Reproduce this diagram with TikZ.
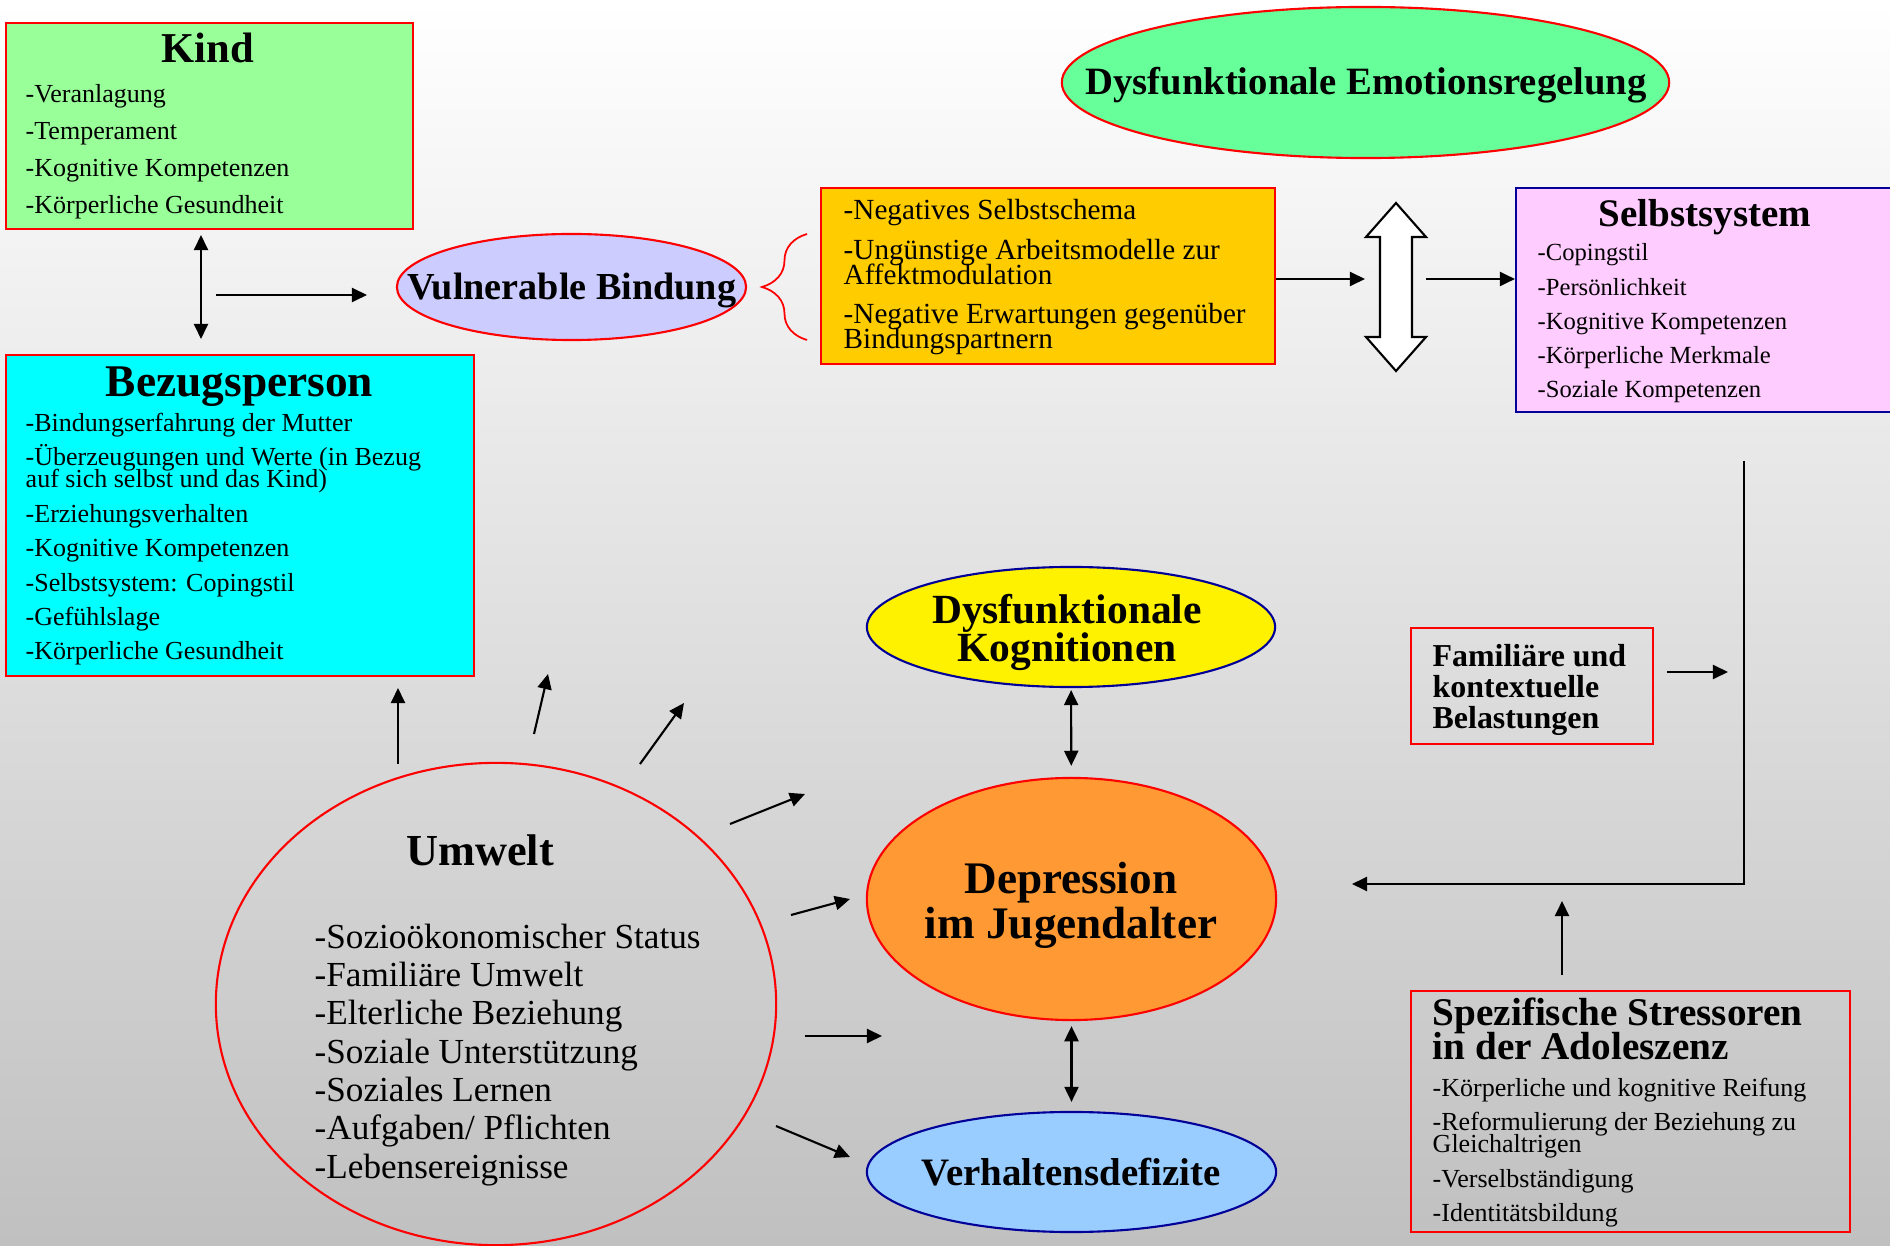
\documentclass[tikz,border=0pt]{standalone}
\usepackage{fontspec}
\setmainfont{Liberation Serif}
\usetikzlibrary{arrows.meta,fit,shapes.geometric,decorations.pathreplacing}
\definecolor{kindgreen}{HTML}{99FF99}
\definecolor{bezcyan}{HTML}{00FFFF}
\definecolor{vulblue}{HTML}{CCCCFF}
\definecolor{negorange}{HTML}{FFCC00}
\definecolor{selpink}{HTML}{FFCCFF}
\definecolor{emogreen}{HTML}{66FF99}
\definecolor{deporange}{HTML}{FF9933}
\definecolor{verblue}{HTML}{99CCFF}
\definecolor{navy}{HTML}{000099}
\definecolor{bggray}{HTML}{C0C0C0}
\newcommand\setfs[2]{\fontsize{#1}{#2}\selectfont\lineskiplimit=-100pt}
\begin{document}
\begin{tikzpicture}[x=0.01cm,y=-0.01cm,
  box/.style={draw=red,line width=0.6pt,inner sep=0pt},
  ell/.style={ellipse,draw=red,line width=0.6pt,inner sep=0pt},
  txt/.style={inner sep=0pt,align=left,anchor=north west},
  hd/.style={inner sep=0pt,anchor=base},
  arr/.style={line width=0.6pt,-{Triangle[length=4.3pt,width=4pt]}},
  darr/.style={line width=0.6pt,{Triangle[length=4.3pt,width=4pt]}-{Triangle[length=4.3pt,width=4pt]}}]
\shade[top color=white,bottom color=bggray](0,0)rectangle(1890,1246);
\useasboundingbox(0,0)rectangle(1890,1246);
% Kind
\node[box,fill=kindgreen,fit={(6,23)(413,229)}](kind){};
\node[hd,font={\setfs{12.1}{14}\bfseries}](kindt)at(208,63){Kind};
\node[txt,font=\setfs{7.4}{10.5}](kindl)at(25,84){-Veranlagung\\-Temperament\\-Kognitive Kompetenzen\\-Körperliche Gesundheit};
% Bezugsperson
\node[box,fill=bezcyan,fit={(6,355)(474,676)}](bez){};
\node[hd,font={\setfs{12.9}{15}\bfseries}](bezt)at(239.5,397){Bezugsperson};
\node[txt,font=\setfs{7.4}{6.3}](bezl)at(25,412){-Bindungserfahrung der Mutter\\[3.5pt]-Überzeugungen und Werte (in Bezug\\auf sich selbst und das Kind)\\[3.5pt]-Erziehungsverhalten\\[3.5pt]-Kognitive Kompetenzen\\[3.5pt]-Selbstsystem: Copingstil\\[3.5pt]-Gefühlslage\\[3.5pt]-Körperliche Gesundheit};
% Vulnerable Bindung
\node[ell,fill=vulblue,minimum width=3.49cm,minimum height=1.06cm](vul)at(571.5,287){};
\node[hd,font={\setfs{10.86}{12}\bfseries}](vult)at(572,300){Vulnerable Bindung};
\draw[red,line width=0.5pt,decorate,decoration={brace,amplitude=0.45cm}](807,340)--(807,234);
% Arbeitsmodelle
\node[box,fill=negorange,fit={(821,188)(1275,364)}](neg){};
\node[txt,font=\setfs{8.3}{7.1}](negl)at(843,199){-Negatives Selbstschema\\[4.1pt]-Ungünstige Arbeitsmodelle zur\\Affektmodulation\\[4.1pt]-Negative Erwartungen gegenüber\\Bindungspartnern};
% hollow double arrow
\draw[fill=white,line width=0.6pt](1396,203)--(1426,237)--(1412,237)--(1412,337)--(1426,337)--(1396,371)
  --(1366,337)--(1380,337)--(1380,237)--(1366,237)--cycle;
\coordinate(hl)at(1365,279);
\coordinate(hr)at(1426,279);
% Selbstsystem
\node[box,draw=navy,fill=selpink,fit={(1516,188)(1900,412)}](sel){};
\node[hd,font={\setfs{11.1}{13}\bfseries}](selt)at(1705,227){Selbstsystem};
\node[txt,font=\setfs{7}{9.75}](sell)at(1537,243){-Copingstil\\-Persönlichkeit\\-Kognitive Kompetenzen\\-Körperliche Merkmale\\-Soziale Kompetenzen};
% Emotionsregelung
\node[ell,fill=emogreen,minimum width=6.07cm,minimum height=1.51cm](emo)at(1365.5,82.5){};
\node[hd,font={\setfs{11}{13}\bfseries}](emot)at(1366,95){Dysfunktionale Emotionsregelung};
% Belastungen
\node[box,fit={(1411,628)(1653,744)}](fam){};
\node[txt,font={\setfs{9.07}{8.8}\bfseries}](famt)at(1432,644){Familiäre und\\kontextuelle\\Belastungen};
% Stressoren
\node[box,fit={(1411,991)(1850,1232)}](spz){};
\node[txt,font={\setfs{11.15}{9.7}\bfseries}](spzt)at(1432,997){Spezifische Stressoren\\in der Adoleszenz};
\node[txt,font=\setfs{7.4}{6.3}](spzl)at(1432,1077){-Körperliche und kognitive Reifung\\[3.5pt]-Reformulierung der Beziehung zu\\Gleichaltrigen\\[3.5pt]-Verselbständigung\\[3.5pt]-Identitätsbildung};
% Mitte
\node[ell,draw=navy,fill=yellow,minimum width=4.08cm,minimum height=1.2cm](kog)at(1071,627){};
\node[inner sep=0pt,align=center,font={\setfs{11.8}{10.8}\bfseries}](kogt)at(1067,632){Dysfunktionale\\Kognitionen};
\node[ell,fill=deporange,minimum width=4.09cm,minimum height=2.42cm](dep)at(1071.5,899){};
\node[inner sep=0pt,align=center,font={\setfs{12.84}{12.8}\bfseries}](dept)at(1071,905){Depression\\im Jugendalter};
\node[ell,draw=navy,fill=verblue,minimum width=4.09cm,minimum height=1.2cm](ver)at(1071.5,1172){};
\node[hd,font={\setfs{11.05}{13}\bfseries}](vert)at(1071,1185){Verhaltensdefizite};
% Umwelt
\node[ell,minimum width=5.6cm,minimum height=4.82cm](umw)at(496,1004){};
\node[hd,font={\setfs{12.6}{14}\bfseries}](umwt)at(480,865){Umwelt};
\node[txt,font=\setfs{10}{10.9}](umwl)at(314,923){-Sozioökonomischer Status\\-Familiäre Umwelt\\-Elterliche Beziehung\\-Soziale Unterstützung\\-Soziales Lernen\\-Aufgaben/ Pflichten\\-Lebensereignisse};
% Pfeilenden
\coordinate(k0)at(201,235); \coordinate(k1)at(201,339);
\coordinate(v0)at(216,295); \coordinate(v1)at(367,295);
\coordinate(f0)at(1667,672); \coordinate(f1)at(1728,672);
\coordinate(s0)at(1562,975); \coordinate(s1)at(1562,901);
\coordinate(rt)at(1744,461); \coordinate(rc)at(1744,884); \coordinate(rl)at(1352,884);
\coordinate(a1)at(398,764); \coordinate(b1)at(398,688);
\coordinate(a2)at(534,734); \coordinate(b2)at(548,674);
\coordinate(a3)at(640,764); \coordinate(b3)at(684,703);
\coordinate(a4)at(730,824); \coordinate(b4)at(805,794);
\coordinate(a5)at(791,915); \coordinate(b5)at(850,899);
\coordinate(a6)at(805,1036); \coordinate(b6)at(882,1036);
\coordinate(a7)at(776,1126); \coordinate(b7)at(850,1157);
\draw[darr](k0)--(k1);
\draw[arr](v0)--(v1);
\draw[arr](neg.east|-hl)--(hl);
\draw[arr](hr)--(sel.west|-hr);
\draw[arr](f0)--(f1);
\draw[arr](s0)--(s1);
\draw[arr](rt)--(rc)--(rl);
\draw[darr,shorten <=0.02cm,shorten >=0.11cm](kog)--(dep);
\draw[darr,shorten <=0.05cm,shorten >=0.09cm](dep)--(ver);
\foreach \i in {1,...,7} \draw[arr](a\i)--(b\i);
\end{tikzpicture}
\end{document}
